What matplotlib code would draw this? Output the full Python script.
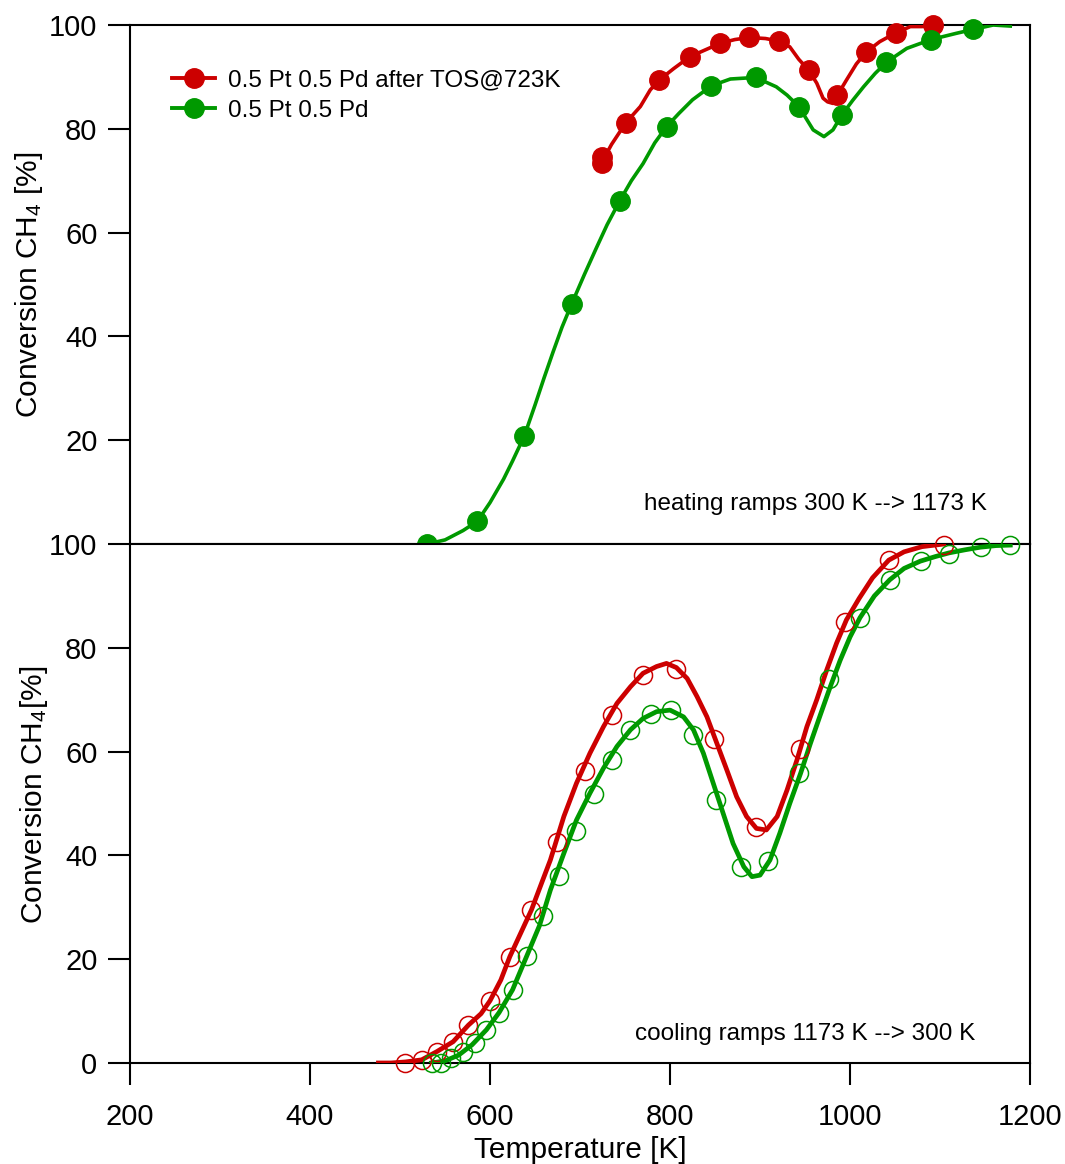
#!/usr/bin/env python3
"""
CH4 conversion over 0.5 Pt 0.5 Pd: heating ramp (top) and cooling ramp
(bottom), fresh sample vs. sample after TOS@723K.
"""

import matplotlib.pyplot as plt

# --- heating ramp 300 K --> 1173 K -------------------------------------
heat_aged_T = [724, 735, 751, 767, 778, 788, 804, 822, 839, 856, 872, 888,
               906, 921, 933, 943, 954, 963, 970, 975, 981, 986, 996, 1007,
               1018, 1033, 1051, 1067, 1080, 1092]
heat_aged_X = [73.5, 77.0, 81.2, 84.3, 87.5, 89.4, 91.6, 93.9, 95.2, 96.5,
               97.2, 97.6, 97.4, 96.9, 95.8, 93.4, 91.3, 88.8, 85.9, 85.2,
               84.9, 86.5, 89.4, 92.5, 94.8, 96.8, 98.5, 99.7, 99.7, 100.0]
heat_aged_mark_T = [724, 724, 751, 788, 822, 856, 888, 921, 954, 985, 1018,
                    1051, 1092]
heat_aged_mark_X = [73.5, 74.5, 81.2, 89.4, 93.9, 96.5, 97.6, 96.9, 91.3,
                    86.5, 94.8, 98.5, 100.0]

heat_fresh_T = [530, 550, 570, 586, 600, 615, 625, 638, 650, 660, 670, 680,
                691, 705, 718, 730, 744, 757, 770, 783, 796, 810, 825, 846,
                867, 895, 918, 930, 943, 959, 971, 981, 991, 1003, 1015, 1028,
                1041, 1063, 1090, 1118, 1138, 1159, 1178]
heat_fresh_X = [0.0, 0.8, 2.6, 4.4, 8.0, 12.5, 16.0, 20.8, 26.8, 32.0, 37.0,
                41.8, 46.4, 52.0, 57.0, 61.5, 66.1, 70.0, 73.3, 77.3, 80.4,
                83.0, 85.6, 88.3, 89.6, 89.9, 88.1, 86.5, 84.3, 79.8, 78.5,
                79.8, 82.7, 85.5, 88.1, 90.7, 92.9, 95.5, 97.2, 98.4, 99.2,
                100.0, 99.8]
heat_fresh_mark_T = [530, 586, 638, 691, 744, 797, 846, 895, 943, 991, 1040,
                     1090, 1137]
heat_fresh_mark_X = [0.0, 4.4, 20.8, 46.2, 66.1, 80.3, 88.3, 90.0, 84.2, 82.7,
                     92.9, 97.1, 99.2]

# --- cooling ramp 1173 K --> 300 K -------------------------------------
cool_aged_T = [476, 490, 506, 524, 541, 559, 576, 590, 600, 612, 622, 634,
               646, 658, 667, 682, 696, 711, 726, 741, 756, 770, 785, 796,
               807, 819, 830, 841, 852, 863, 874, 885, 896, 907, 919, 930,
               941, 952, 963, 974, 985, 996, 1010, 1025, 1043, 1060, 1080,
               1104]
cool_aged_X = [0.0, 0.0, 0.2, 0.6, 2.2, 4.1, 7.3, 9.5, 12.0, 16.0, 20.5, 25.0,
               29.5, 35.0, 39.1, 47.5, 53.9, 59.7, 64.8, 69.3, 72.5, 75.1,
               76.4, 77.0, 76.2, 74.1, 70.6, 66.7, 61.6, 56.5, 51.3, 47.5,
               45.2, 44.9, 47.5, 52.6, 58.4, 64.8, 70.0, 75.7, 80.9, 85.4,
               89.5, 93.5, 96.9, 98.5, 99.5, 100.0]
cool_aged_mark_T = [506, 524, 541, 559, 576, 600, 622, 646, 674, 705, 735,
                    770, 807, 849, 896, 944, 994, 1043, 1104]
cool_aged_mark_X = [0.0, 0.6, 2.2, 4.1, 7.3, 12.0, 20.5, 29.5, 42.6, 56.3,
                    67.1, 74.8, 75.9, 62.4, 45.5, 60.6, 85.0, 96.9, 99.8]

cool_fresh_T = [535, 550, 565, 580, 596, 610, 625, 641, 655, 667, 682, 696,
                711, 726, 741, 756, 770, 785, 800, 815, 826, 837, 848, 859,
                870, 882, 891, 900, 911, 922, 933, 945, 956, 967, 978, 989,
                1000, 1011, 1027, 1044, 1060, 1078, 1095, 1110, 1128, 1145,
                1162, 1178]
cool_fresh_X = [0.0, 0.4, 1.5, 3.5, 6.4, 9.7, 14.1, 20.7, 26.5, 33.3, 40.4,
                46.8, 52.0, 56.8, 61.0, 64.2, 66.4, 67.7, 68.0, 66.7, 64.2,
                59.7, 53.9, 48.1, 42.3, 37.8, 35.9, 36.2, 39.1, 44.3, 50.0,
                55.8, 61.6, 67.1, 72.5, 77.6, 82.1, 85.8, 90.0, 93.1, 95.3,
                96.7, 97.6, 98.3, 98.9, 99.4, 99.7, 99.8]
cool_fresh_mark_T = [536, 546, 557, 570, 583, 596, 610, 625, 641, 659, 677,
                     696, 715, 735, 756, 779, 801, 826, 851, 879, 909, 943,
                     977, 1011, 1044, 1079, 1110, 1145, 1178]
cool_fresh_mark_X = [0.0, 0.0, 0.9, 2.2, 3.9, 6.4, 9.7, 14.1, 20.7, 28.3,
                     36.1, 44.7, 51.8, 58.3, 64.2, 67.2, 68.0, 63.2, 50.7,
                     37.7, 39.0, 55.8, 73.9, 85.8, 93.1, 96.7, 98.0, 99.4,
                     99.8]

RED = "#cc0000"
GREEN = "#009900"

plt.rcParams["font.family"] = "Liberation Sans"
plt.rcParams["mathtext.fontset"] = "custom"
plt.rcParams["mathtext.rm"] = "Liberation Sans"
plt.rcParams["mathtext.it"] = "Liberation Sans:italic"


def style_axes(ax, yticks):
    """Outward ticks, black frame, fixed limits."""
    ax.set_xlim(200, 1200)
    ax.set_ylim(0, 100)
    ax.set_yticks(yticks)
    for sp in ax.spines.values():
        sp.set_linewidth(1.5)
    ax.tick_params(direction="out", length=15.5, width=1.5, labelsize=21,
                   right=False, top=False)
    ax.tick_params(axis="y", pad=8)
    ax.tick_params(axis="x", pad=13)


fig = plt.figure(figsize=(10.65, 11.64), dpi=100)
ax_top = fig.add_axes([0.1221, 0.5326, 0.8451, 0.4459])
ax_bot = fig.add_axes([0.1221, 0.0868, 0.8451, 0.4458])

# heating (top)
style_axes(ax_top, [20, 40, 60, 80, 100])
ax_top.tick_params(bottom=False, labelbottom=False)
ax_top.plot(heat_aged_T, heat_aged_X, color=RED, lw=2.6, zorder=3)
ax_top.plot(heat_aged_mark_T, heat_aged_mark_X, "o", color=RED, ms=14,
            clip_on=False, zorder=4)
ax_top.plot(heat_fresh_T, heat_fresh_X, color=GREEN, lw=2.6, zorder=3)
ax_top.plot(heat_fresh_mark_T, heat_fresh_mark_X, "o", color=GREEN, ms=14,
            clip_on=False, zorder=4)

# legend proxies: line + filled marker
ax_top.plot([], [], "-o", color=RED, lw=2.8, ms=14,
            label="0.5 Pt 0.5 Pd after TOS@723K")
ax_top.plot([], [], "-o", color=GREEN, lw=2.8, ms=14, label="0.5 Pt 0.5 Pd")
ax_top.legend(loc="upper left", bbox_to_anchor=(0.047, 0.915), frameon=False,
              fontsize=17.5, handlelength=1.75, handletextpad=0.55,
              labelspacing=0.36, borderpad=0, borderaxespad=0)

ax_top.text(0.952, 0.077, "heating ramps 300 K --> 1173 K", fontsize=17.5,
            ha="right", va="center", transform=ax_top.transAxes)
ax_top.set_ylabel("Conversion CH$_4$ [%]", fontsize=21.5)
ax_top.yaxis.set_label_coords(-0.095, 0.5)

# cooling (bottom)
style_axes(ax_bot, [0, 20, 40, 60, 80, 100])
ax_bot.set_xticks([200, 400, 600, 800, 1000, 1200])
ax_bot.plot(cool_aged_T, cool_aged_X, color=RED, lw=3.4, zorder=3)
ax_bot.plot(cool_aged_mark_T, cool_aged_mark_X, "o", mfc="none", mec=RED,
            mew=1.1, ms=13, clip_on=False, zorder=4)
ax_bot.plot(cool_fresh_T, cool_fresh_X, color=GREEN, lw=3.4, zorder=3)
ax_bot.plot(cool_fresh_mark_T, cool_fresh_mark_X, "o", mfc="none",
            mec=GREEN, mew=1.1, ms=13, clip_on=False, zorder=4)

ax_bot.text(0.939, 0.056, "cooling ramps 1173 K --> 300 K", fontsize=17.5,
            ha="right", va="center", transform=ax_bot.transAxes)
ax_bot.set_ylabel("Conversion CH$_4$[%]", fontsize=21.5)
ax_bot.yaxis.set_label_coords(-0.089, 0.516)
ax_bot.set_xlabel("Temperature [K]", fontsize=21.5, labelpad=4)

fig.savefig("out.png", dpi=100)
